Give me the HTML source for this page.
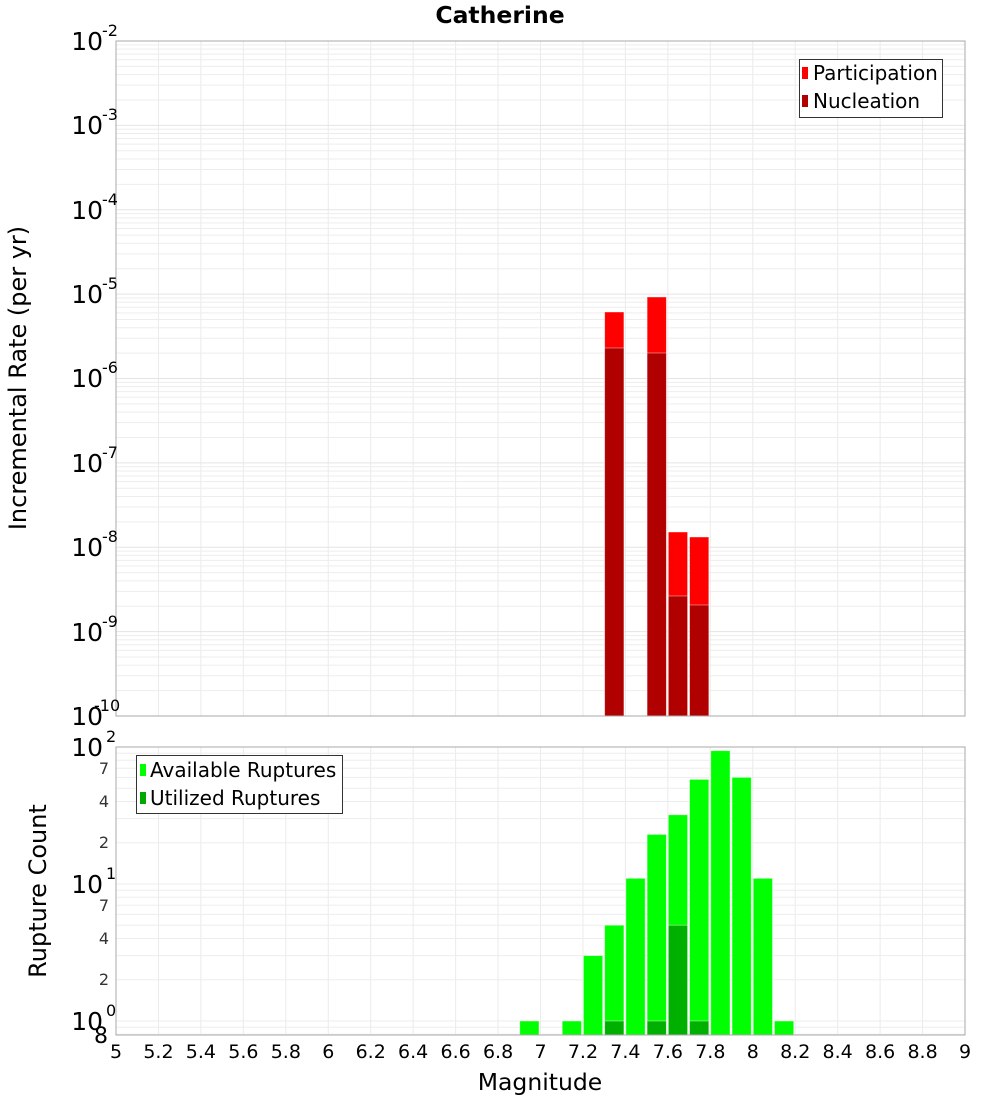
<!DOCTYPE html>
<html><head><meta charset="utf-8"><style>
body{margin:0;background:#fff}
svg{display:block;font-family:"DejaVu Sans","Liberation Sans",sans-serif}
</style></head><body>
<svg id="s" width="1000" height="1100" xmlns="http://www.w3.org/2000/svg">
<rect width="1000" height="1100" fill="#fff"/>
<g id="grid"></g>
<g id="bars"></g>
<rect x="116" y="41" width="849" height="675" fill="none" stroke="#aaa" stroke-width="1"/>
<rect x="116" y="747" width="849" height="288" fill="none" stroke="#aaa" stroke-width="1"/>
<text x="500" y="23" font-size="23.5" font-weight="bold" text-anchor="middle">Catherine</text>
<g font-size="25" text-anchor="end">
<text x="103" y="50">10</text><text x="103" y="134">10</text><text x="103" y="219">10</text><text x="103" y="303">10</text><text x="103" y="387">10</text><text x="103" y="472">10</text><text x="103" y="556">10</text><text x="103" y="641">10</text><text x="103" y="725">10</text>
</g>
<g font-size="16">
<text x="102" y="36">-2</text><text x="102" y="120">-3</text><text x="102" y="205">-4</text><text x="102" y="289">-5</text><text x="102" y="373">-6</text><text x="102" y="458">-7</text><text x="102" y="542">-8</text><text x="102" y="627">-9</text><text x="94" y="711">-10</text>
</g>
<text transform="translate(26,378) rotate(-90)" font-size="24" text-anchor="middle">Incremental Rate (per yr)</text>
<text transform="translate(46,891) rotate(-90)" font-size="24" text-anchor="middle">Rupture Count</text>
<g font-size="25" text-anchor="end">
<text x="103" y="756">10</text><text x="103" y="893">10</text><text x="103" y="1030">10</text>
</g>
<g font-size="16">
<text x="106" y="742">2</text><text x="106" y="879">1</text><text x="106" y="1016">0</text>
</g>
<g font-size="16" text-anchor="end" fill="#333">
<text x="109" y="774">7</text><text x="109" y="807">4</text><text x="109" y="848">2</text>
<text x="109" y="911">7</text><text x="109" y="944">4</text><text x="109" y="985">2</text>
</g>
<text x="108" y="1043" font-size="22" text-anchor="end">8</text>
<g font-size="19" text-anchor="middle">
<text x="116" y="1058">5</text><text x="158.45" y="1058">5.2</text><text x="200.9" y="1058">5.4</text><text x="243.35" y="1058">5.6</text><text x="285.8" y="1058">5.8</text><text x="328.25" y="1058">6</text><text x="370.7" y="1058">6.2</text><text x="413.15" y="1058">6.4</text><text x="455.6" y="1058">6.6</text><text x="498.05" y="1058">6.8</text><text x="540.5" y="1058">7</text><text x="582.95" y="1058">7.2</text><text x="625.4" y="1058">7.4</text><text x="667.85" y="1058">7.6</text><text x="710.3" y="1058">7.8</text><text x="752.75" y="1058">8</text><text x="795.2" y="1058">8.2</text><text x="837.65" y="1058">8.4</text><text x="880.1" y="1058">8.6</text><text x="922.55" y="1058">8.8</text><text x="965" y="1058">9</text>
</g>
<text x="540" y="1090" font-size="23.5" text-anchor="middle">Magnitude</text>
<rect x="799.5" y="59.5" width="143" height="58" fill="#fff" stroke="#333"/>
<rect x="802" y="67" width="6" height="12" fill="#f00"/>
<rect x="802" y="95" width="6" height="12" fill="#b00000"/>
<g font-size="20"><text x="813" y="80">Participation</text><text x="813" y="108">Nucleation</text></g>
<rect x="136.5" y="755.5" width="206" height="58" fill="#fff" stroke="#333"/>
<rect x="140" y="764" width="6" height="12" fill="#0f0"/>
<rect x="140" y="792" width="6" height="12" fill="#00a800"/>
<g font-size="20"><text x="150" y="777">Available Ruptures</text><text x="150" y="805">Utilized Ruptures</text></g>
</svg>
<script>
var NS="http://www.w3.org/2000/svg";
function el(p,t,a){var e=document.createElementNS(NS,t);for(var k in a)e.setAttribute(k,a[k]);p.appendChild(e);}
var g=document.getElementById("grid"),b=document.getElementById("bars");
function X(m){return 116+(m-5)*212.25;}
for(var i=1;i<20;i++){var x=X(5+i*0.2);
 el(g,"line",{x1:x,x2:x,y1:41,y2:716,stroke:"#ebebeb"});
 el(g,"line",{x1:x,x2:x,y1:747,y2:1035,stroke:"#ebebeb"});}
for(var d=0;d<8;d++)for(var k=1;k<10;k++){var y=716-84.375*(d+Math.log10(k));
 if(y>41&&y<716)el(g,"line",{x1:116,x2:965,y1:y,y2:y,stroke:k==1?"#e4e4e4":"#ededed"});}
for(var d=-1;d<2;d++)for(var k=1;k<10;k++){var y=1021-137*(d+Math.log10(k));
 if(y>747&&y<1035)el(g,"line",{x1:116,x2:965,y1:y,y2:y,stroke:"#ededed"});}
function bar(m,top,bot,c){var x1=X(m)+0.5,x2=X(m+0.1)-1.5;
 el(b,"rect",{x:x1,y:top,width:x2-x1,height:bot-top,fill:c,stroke:"rgba(255,255,255,0.5)","stroke-width":0.8});}
var P=[[7.3,312,348],[7.5,297,353],[7.6,532,596],[7.7,537,605]];
P.forEach(function(p){bar(p[0],p[1],716,"#f00");bar(p[0],p[2],716,"#b00000");});
function Y(v){return 1021-137*Math.log10(v);}
var A=[[6.9,1],[7.1,1],[7.2,3],[7.3,5],[7.4,11],[7.5,23],[7.6,32],[7.7,58],[7.8,94],[7.9,60],[8.0,11],[8.1,1]];
A.forEach(function(a){bar(a[0],Y(a[1]),1035,"#0f0");});
var U=[[7.3,1],[7.5,1],[7.6,5],[7.7,1]];
U.forEach(function(a){bar(a[0],Y(a[1]),1035,"#00b000");});
</script>
</body></html>
